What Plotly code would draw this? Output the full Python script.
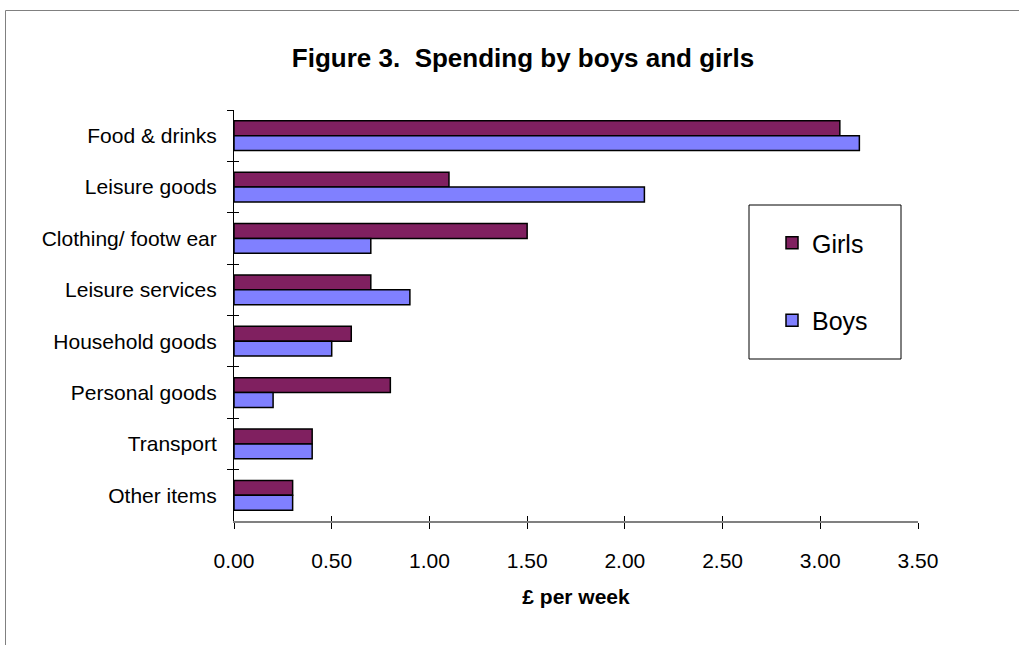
import plotly.graph_objects as go

categories = ["Food & drinks", "Leisure goods", "Clothing/ footw ear", "Leisure services",
              "Household goods", "Personal goods", "Transport", "Other items"]
girls = [3.10, 1.10, 1.50, 0.70, 0.60, 0.80, 0.40, 0.30]
boys = [3.20, 2.10, 0.70, 0.90, 0.50, 0.20, 0.40, 0.30]
x_ticks = [0, 0.5, 1.0, 1.5, 2.0, 2.5, 3.0, 3.5]
x_tick_labels = ["0.00", "0.50", "1.00", "1.50", "2.00", "2.50", "3.00", "3.50"]
y_boundaries = [0, 1, 2, 3, 4, 5, 6, 7, 8]

W, H = 1019, 645
L, R, T, B = 234, 101, 110, 124
pw, ph = W - L - R, H - T - B

FONT = "Liberation Sans, Arial, sans-serif"

fig = go.Figure()
fig.add_trace(go.Bar(y=categories, x=girls, name="Girls", orientation="h",
                     marker=dict(color="#802060", line=dict(color="black", width=1.5)),
                     legendgroup="g"))
fig.add_trace(go.Bar(y=categories, x=boys, name="Boys", orientation="h",
                     marker=dict(color="#8080FF", line=dict(color="black", width=1.5)),
                     legendgroup="b"))
# invisible trace to host overlay axes (crossing ticks)
fig.add_trace(go.Scatter(x=[0, 3.5], y=[0, 8], xaxis="x2", yaxis="y2", mode="markers",
                         marker=dict(opacity=0), showlegend=False, hoverinfo="skip"))

fig.update_layout(
    width=W, height=H,
    margin=dict(l=L, r=R, t=T, b=B),
    paper_bgcolor="white", plot_bgcolor="white",
    barmode="group", bargap=0.42, bargroupgap=0,
    font=dict(family=FONT, color="black", size=21),
    title=dict(text="<b>Figure 3.  Spending by boys and girls</b>", x=523 / W, xanchor="center",
               y=1 - 58 / H, yanchor="middle", yref="container", xref="container",
               font=dict(size=26, family=FONT, color="black")),
    xaxis=dict(range=[0, 3.5], tickvals=x_ticks, ticktext=x_tick_labels,
               showgrid=False, zeroline=False, showline=True, linecolor="#808080", linewidth=2,
               ticks="outside", ticklen=6, tickcolor="black", tickwidth=1,
               tickfont=dict(size=21, family=FONT), fixedrange=True, ticklabelstandoff=14,
               title=dict(text="<b>£ per week</b>", font=dict(size=21, family=FONT), standoff=18)),
    yaxis=dict(categoryorder="array", categoryarray=categories, autorange="reversed",
               showgrid=False, zeroline=False, showline=True, linecolor="black", linewidth=1,
               ticks="outside", ticklen=6, tickcolor="black", tickwidth=1, tickson="boundaries",
               tickfont=dict(size=21, family=FONT), ticklabelstandoff=12),
    xaxis2=dict(range=[0, 3.5], tickvals=x_ticks, overlaying="x", anchor="y2", side="bottom",
                showticklabels=False, showgrid=False, zeroline=False, showline=False,
                ticks="inside", ticklen=5, tickcolor="black", tickwidth=1),
    yaxis2=dict(range=[8, 0], tickvals=y_boundaries, overlaying="y", anchor="x2", side="left",
                showticklabels=False, showgrid=False, zeroline=False, showline=False,
                ticks="inside", ticklen=5, tickcolor="black", tickwidth=1),
    legend=dict(x=(772 - L) / pw, y=1 - (220 - T) / ph, xanchor="left", yanchor="top",
                bgcolor="rgba(0,0,0,0)", borderwidth=0, traceorder="grouped",
                tracegroupgap=42, font=dict(size=25, family=FONT)),
    showlegend=True,
)

# legend box and outer chart frame
fig.add_shape(type="rect", xref="paper", yref="paper",
              x0=(749 - L) / pw, x1=(901 - L) / pw, y0=1 - (359 - T) / ph, y1=1 - (205 - T) / ph,
              line=dict(color="black", width=1), fillcolor="rgba(0,0,0,0)", layer="above")
fig.add_shape(type="rect", xref="paper", yref="paper",
              x0=(5.5 - L) / pw, x1=(W + 20 - L) / pw, y0=1 - (H + 20 - T) / ph, y1=1 - (10.5 - T) / ph,
              line=dict(color="#808080", width=1), fillcolor="rgba(0,0,0,0)", layer="above")

fig.write_html("out.html")
